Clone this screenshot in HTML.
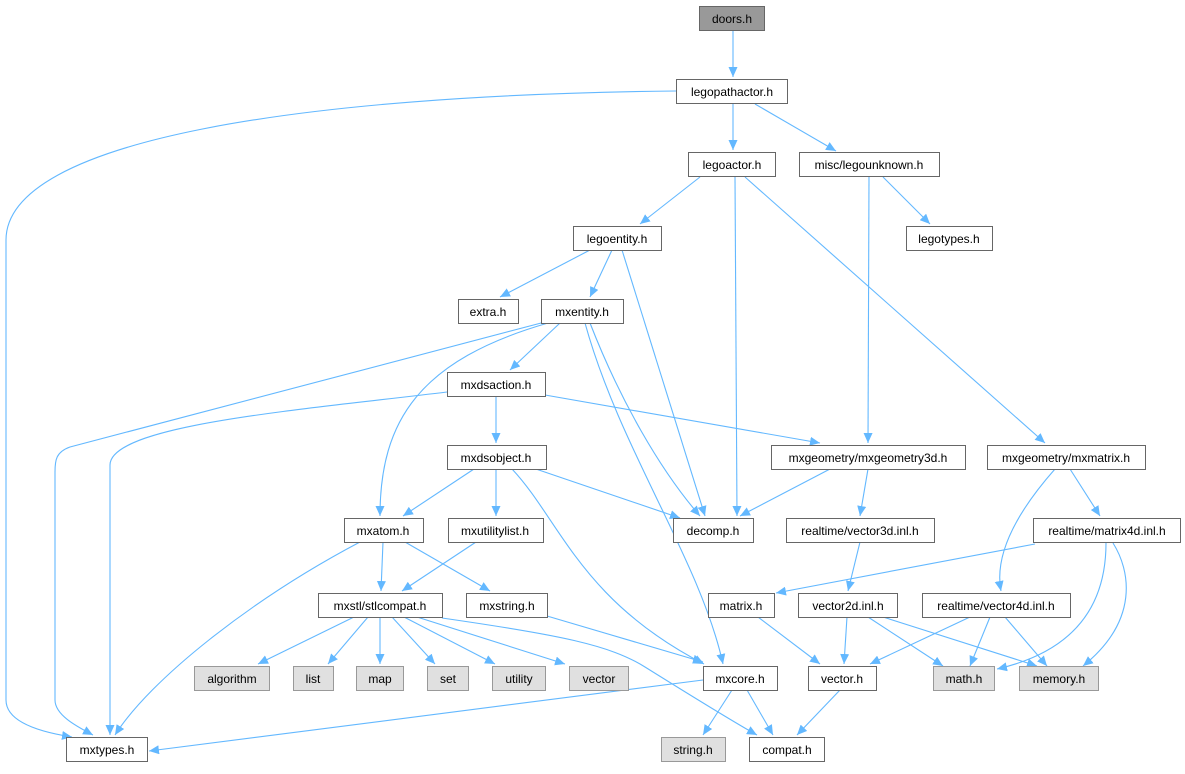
<!DOCTYPE html>
<html><head><meta charset="utf-8"><style>
html,body{margin:0;padding:0;background:#fff}
svg text{font-family:"Liberation Sans",sans-serif;font-size:12px;fill:#000}
</style></head><body>
<svg width="1185" height="769" viewBox="0 0 1185 769" xmlns="http://www.w3.org/2000/svg">
<defs><marker id="a" markerUnits="userSpaceOnUse" markerWidth="11" markerHeight="9" refX="10" refY="4.5" orient="auto"><path d="M0,0 L10,4.5 L0,9 z" fill="#63b8ff"/></marker></defs>
<g fill="none" stroke="#63b8ff" stroke-width="1.1" marker-end="url(#a)">
<path d="M733,31 L733,77"/>
<path d="M676,91 C300,95 6,140 6,240 L6,700 C6,722 40,732 72,737"/>
<path d="M733,104 L733,150"/>
<path d="M755,104 L836,151"/>
<path d="M700,177 L640,224"/>
<path d="M735,177 L737,516"/>
<path d="M745,177 L1045,443"/>
<path d="M869,177 L868,443"/>
<path d="M883,177 L930,224"/>
<path d="M590,250 L500,297"/>
<path d="M612,250 L590,297"/>
<path d="M622,250 L705,516"/>
<path d="M545,322 L70,447 C56,452 55,460 55,472 L55,700 C55,716 80,728 93,735"/>
<path d="M560,323 L510,370"/>
<path d="M548,323 C420,360 380,420 380,516"/>
<path d="M590,323 C620,400 660,470 700,516"/>
<path d="M585,323 C620,450 700,560 723,664"/>
<path d="M447,392 C300,410 110,425 110,465 L110,735"/>
<path d="M496,396 L496,443"/>
<path d="M545,395 L820,443"/>
<path d="M474,469 L403,516"/>
<path d="M496,469 L496,516"/>
<path d="M530,467 L680,518"/>
<path d="M512,469 C560,520 580,600 704,664"/>
<path d="M830,469 L740,516"/>
<path d="M868,469 L860,516"/>
<path d="M1070,469 L1100,516"/>
<path d="M1055,469 C1010,520 995,560 1001,591"/>
<path d="M1035,544 L776,593"/>
<path d="M1106,543 C1106,600 1080,650 997,669"/>
<path d="M1113,543 C1130,570 1140,620 1083,666"/>
<path d="M360,542 C250,600 150,680 115,735"/>
<path d="M383,542 L381,591"/>
<path d="M405,542 L490,591"/>
<path d="M476,542 L402,591"/>
<path d="M860,542 L848,591"/>
<path d="M354,617 L258,664"/>
<path d="M368,617 L328,664"/>
<path d="M380,617 L380,664"/>
<path d="M392,617 L435,664"/>
<path d="M404,617 L495,664"/>
<path d="M417,617 L565,664"/>
<path d="M442,618 C560,635 610,645 645,667 C690,695 730,720 757,735"/>
<path d="M547,616 L703,662"/>
<path d="M758,617 L820,664"/>
<path d="M847,617 L844,664"/>
<path d="M868,617 L943,666"/>
<path d="M883,617 L1037,666"/>
<path d="M970,617 L870,664"/>
<path d="M990,617 L970,666"/>
<path d="M1005,617 L1047,666"/>
<path d="M703,680 L149,751"/>
<path d="M732,690 L703,735"/>
<path d="M747,690 L773,735"/>
<path d="M840,690 L797,735"/>
</g>
<g stroke="#666" stroke-width="1">
<rect x="699.5" y="6.5" width="65" height="24" fill="#999"/>
<rect x="676.5" y="79.5" width="111" height="24" fill="#fff"/>
<rect x="688.5" y="152.5" width="87" height="24" fill="#fff"/>
<rect x="799.5" y="152.5" width="140" height="24" fill="#fff"/>
<rect x="573.5" y="226.5" width="88" height="24" fill="#fff"/>
<rect x="906.5" y="226.5" width="86" height="24" fill="#fff"/>
<rect x="458.5" y="299.5" width="60" height="24" fill="#fff"/>
<rect x="541.5" y="299.5" width="82" height="24" fill="#fff"/>
<rect x="447.5" y="372.5" width="98" height="24" fill="#fff"/>
<rect x="447.5" y="445.5" width="99" height="24" fill="#fff"/>
<rect x="771.5" y="445.5" width="194" height="24" fill="#fff"/>
<rect x="987.5" y="445.5" width="158" height="24" fill="#fff"/>
<rect x="344.5" y="518.5" width="79" height="24" fill="#fff"/>
<rect x="448.5" y="518.5" width="95" height="24" fill="#fff"/>
<rect x="673.5" y="518.5" width="80" height="24" fill="#fff"/>
<rect x="786.5" y="518.5" width="148" height="24" fill="#fff"/>
<rect x="1033.5" y="518.5" width="147" height="24" fill="#fff"/>
<rect x="318.5" y="593.5" width="124" height="24" fill="#fff"/>
<rect x="466.5" y="593.5" width="81" height="24" fill="#fff"/>
<rect x="708.5" y="593.5" width="66" height="24" fill="#fff"/>
<rect x="798.5" y="593.5" width="99" height="24" fill="#fff"/>
<rect x="922.5" y="593.5" width="148" height="24" fill="#fff"/>
<g fill="#e0e0e0" stroke="#999">
<rect x="194.5" y="666.5" width="75" height="24"/>
<rect x="293.5" y="666.5" width="40" height="24"/>
<rect x="356.5" y="666.5" width="47" height="24"/>
<rect x="427.5" y="666.5" width="41" height="24"/>
<rect x="492.5" y="666.5" width="53" height="24"/>
<rect x="569.5" y="666.5" width="59" height="24"/>
<rect x="933.5" y="666.5" width="61" height="24"/>
<rect x="1019.5" y="666.5" width="79" height="24"/>
<rect x="661.5" y="737.5" width="64" height="24"/>
</g>
<rect x="703.5" y="666.5" width="74" height="24" fill="#fff"/>
<rect x="808.5" y="666.5" width="68" height="24" fill="#fff"/>
<rect x="66.5" y="737.5" width="81" height="24" fill="#fff"/>
<rect x="749.5" y="737.5" width="75" height="24" fill="#fff"/>
</g>
<g text-anchor="middle">
<text x="732" y="23">doors.h</text>
<text x="732" y="96">legopathactor.h</text>
<text x="732" y="169">legoactor.h</text>
<text x="869" y="169">misc/legounknown.h</text>
<text x="617" y="243">legoentity.h</text>
<text x="949" y="243">legotypes.h</text>
<text x="488" y="316">extra.h</text>
<text x="582" y="316">mxentity.h</text>
<text x="496" y="389">mxdsaction.h</text>
<text x="496" y="462">mxdsobject.h</text>
<text x="868" y="462">mxgeometry/mxgeometry3d.h</text>
<text x="1066" y="462">mxgeometry/mxmatrix.h</text>
<text x="383" y="535">mxatom.h</text>
<text x="495" y="535">mxutilitylist.h</text>
<text x="713" y="535">decomp.h</text>
<text x="860" y="535">realtime/vector3d.inl.h</text>
<text x="1107" y="535">realtime/matrix4d.inl.h</text>
<text x="380" y="610">mxstl/stlcompat.h</text>
<text x="507" y="610">mxstring.h</text>
<text x="741" y="610">matrix.h</text>
<text x="848" y="610">vector2d.inl.h</text>
<text x="996" y="610">realtime/vector4d.inl.h</text>
<text x="232" y="683">algorithm</text>
<text x="313" y="683">list</text>
<text x="380" y="683">map</text>
<text x="448" y="683">set</text>
<text x="519" y="683">utility</text>
<text x="599" y="683">vector</text>
<text x="740" y="683">mxcore.h</text>
<text x="842" y="683">vector.h</text>
<text x="964" y="683">math.h</text>
<text x="1059" y="683">memory.h</text>
<text x="107" y="754">mxtypes.h</text>
<text x="693" y="754">string.h</text>
<text x="787" y="754">compat.h</text>
</g>
</svg>
</body></html>
